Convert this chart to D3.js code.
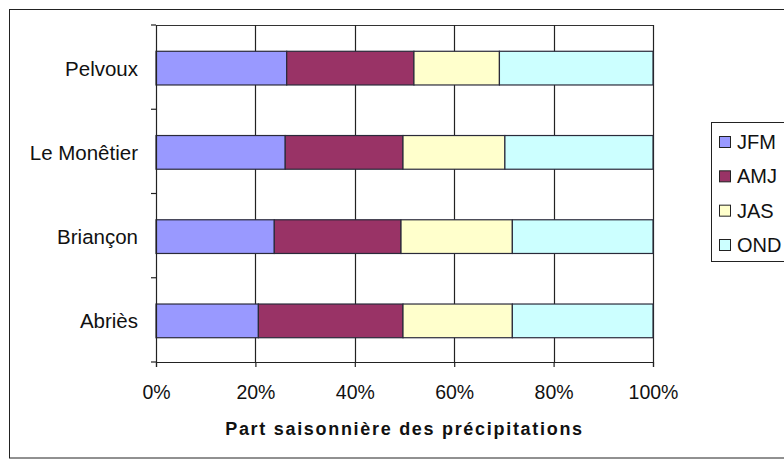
<!DOCTYPE html>
<html><head><meta charset="utf-8">
<script src="https://cdn.jsdelivr.net/npm/d3@7"></script>
<style>
html,body{margin:0;padding:0;background:#fff;}
svg{display:block;}
text{font-family:"Liberation Sans", Arial, sans-serif; fill:#111;}
</style></head>
<body>
<svg id="chart" width="784" height="460"></svg>
<script>
const categories = ["Pelvoux", "Le Monêtier", "Briançon", "Abriès"];
const seasons = ["JFM", "AMJ", "JAS", "OND"];
const JFM = [26.3, 26.0, 23.8, 20.6];
const AMJ = [25.6, 23.7, 25.5, 29.1];
const JAS = [17.2, 20.5, 22.4, 22.0];
const OND = [30.9, 29.8, 28.3, 28.3];
const colors = ["#9999FF", "#993366", "#FFFFCC", "#CCFFFF"];
const tickValues = [0, 0.2, 0.4, 0.6, 0.8, 1.0];
const xTitle = "Part saisonnière des précipitations";

const seriesVals = [JFM, AMJ, JAS, OND];
const rows = categories.map((c, i) => {
  const o = {cat: c};
  seasons.forEach((s, j) => o[s] = seriesVals[j][i]);
  return o;
});
// normalize to 100%
const stack = d3.stack().keys(seasons).offset(d3.stackOffsetExpand)(rows);

const svg = d3.select("#chart");
// outer frame
svg.append("rect").attr("x", 9.5).attr("y", 9.5).attr("width", 800).attr("height", 448.5)
  .attr("fill", "none").attr("stroke", "#222").attr("stroke-width", 1);

const m = {left: 156, right: 653, top: 25, bottom: 362};
const x = d3.scaleLinear().domain([0, 1]).range([m.left, m.right]);
const y = d3.scaleBand().domain(categories).range([m.top, m.bottom]).paddingInner(0.6).paddingOuter(0.3);
const yb = d3.scaleBand().domain(categories).range([m.top, m.bottom]);

// plot area top border
svg.append("line").attr("x1", m.left).attr("x2", m.right).attr("y1", m.top + 0.5).attr("y2", m.top + 0.5)
  .attr("stroke", "#333");

// gridlines
svg.append("g").selectAll("line").data(tickValues.slice(1)).join("line")
  .attr("x1", d => Math.round(x(d)) + 0.5).attr("x2", d => Math.round(x(d)) + 0.5)
  .attr("y1", m.top).attr("y2", m.bottom)
  .attr("stroke", "#222").attr("stroke-width", 1.2);

// bars
svg.append("g").selectAll("g").data(stack).join("g")
  .attr("fill", (d, i) => colors[i])
  .selectAll("rect").data(d => d).join("rect")
  .attr("x", d => x(d[0]))
  .attr("width", d => x(d[1]) - x(d[0]))
  .attr("y", d => y(d.data.cat) + 1)
  .attr("height", y.bandwidth())
  .attr("stroke", "#2a2a3a").attr("stroke-width", 1.2);

// x axis
const xAxis = d3.axisBottom(x).tickValues(tickValues).tickFormat(d3.format(".0%")).tickSize(5).tickPadding(14);
const gx = svg.append("g").attr("transform", `translate(0,${m.bottom})`).call(xAxis);
gx.select(".domain").attr("stroke", "#222").attr("stroke-width", 1.2);
gx.selectAll(".tick line").attr("stroke", "#222").attr("stroke-width", 1.2);
gx.selectAll(".tick text").attr("font-size", 19.5).attr("font-family", "Liberation Sans, Arial, sans-serif").attr("fill", "#111").attr("dy", "0.9em");

// y axis: ticks at band boundaries
const gy = svg.append("g").attr("transform", `translate(${m.left},0)`);
gy.append("line").attr("x1", 0.5).attr("x2", 0.5).attr("y1", m.top).attr("y2", m.bottom).attr("stroke", "#222").attr("stroke-width", 1.2);
const bounds = categories.map(c => yb(c)).concat([m.bottom]);
gy.selectAll("line.t").data(bounds).join("line").attr("class", "t")
  .attr("x1", -5).attr("x2", 0).attr("y1", d => d).attr("y2", d => d)
  .attr("stroke", "#222").attr("stroke-width", 1.2);
gy.selectAll("text").data(categories).join("text")
  .attr("x", -18).attr("y", d => y(d) + y.bandwidth() / 2 + 1)
  .attr("text-anchor", "end").attr("dominant-baseline", "central")
  .attr("font-size", 20.5).text(d => d);

// x title
svg.append("text").attr("x", (m.left + m.right) / 2).attr("y", 435)
  .attr("text-anchor", "middle").attr("font-size", 18).attr("font-weight", "bold")
  .attr("letter-spacing", 1.7).text(xTitle);

// legend
const lg = svg.append("g");
lg.append("rect").attr("x", 711.5).attr("y", 122.5).attr("width", 100).attr("height", 139)
  .attr("fill", "#fff").attr("stroke", "#222");
const ly = d3.scalePoint().domain(seasons).range([142, 245]);
const items = lg.selectAll("g").data(seasons).join("g")
  .attr("transform", d => `translate(0,${ly(d)})`);
items.append("rect").attr("x", 719.5).attr("y", -5.5).attr("width", 11).attr("height", 11)
  .attr("fill", (d, i) => colors[i]).attr("stroke", "#222");
items.append("text").attr("x", 737).attr("y", 0).attr("dominant-baseline", "central")
  .attr("font-size", 20).text(d => d);
</script>
</body></html>
